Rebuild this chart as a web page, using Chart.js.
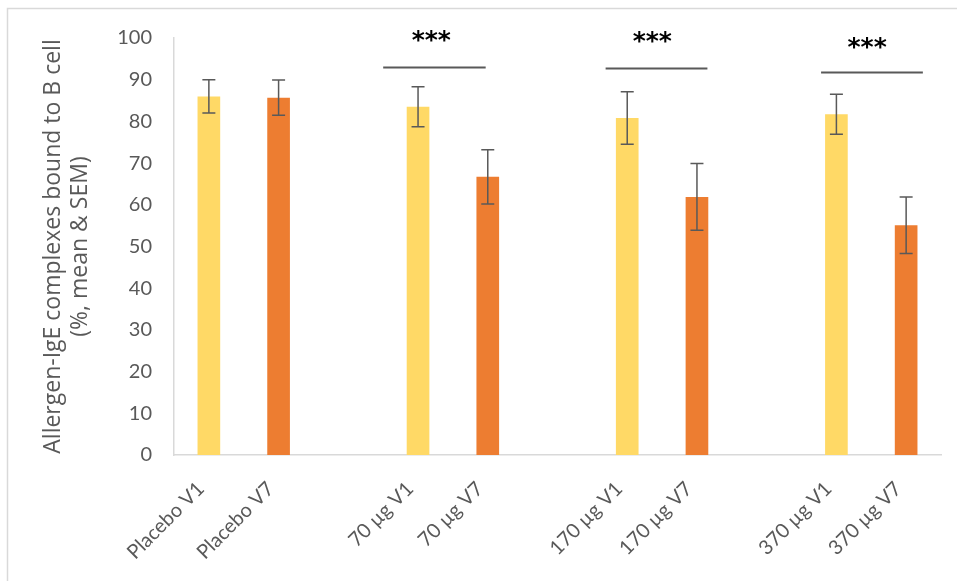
<!DOCTYPE html>
<html>
<head>
<meta charset="utf-8">
<script src="https://cdn.jsdelivr.net/npm/chart.js@4.4.1/dist/chart.umd.min.js"></script>
<style>
  html, body { margin: 0; padding: 0; background: #fff; }
  #wrap { width: 957px; height: 581px; position: relative; }
</style>
</head>
<body>
<div id="wrap"><canvas id="chart" width="957" height="581"></canvas></div>
<script>
// categories (blank ones make the gaps between dose groups)
const categories = ['Placebo V1', 'Placebo V7', '', '70 µg V1', '70 µg V7', '',
                    '170 µg V1', '170 µg V7', '', '370 µg V1', '370 µg V7'];
const meanValues = [86.0, 85.7, null, 83.5, 66.7, null, 80.8, 61.9, null, 81.7, 55.1];
const semValues  = [4.0, 4.2, null, 4.8, 6.5, null, 6.3, 8.0, null, 4.8, 6.8];
const visitOf    = ['V1', 'V7', '', 'V1', 'V7', '', 'V1', 'V7', '', 'V1', 'V7'];
const yTicks = [0, 10, 20, 30, 40, 50, 60, 70, 80, 90, 100];

// significance brackets (category index / y value)
const sigStart = [2.5, 5.69, 8.78];
const sigEnd   = [3.97, 7.15, 10.24];
const sigLineY = [93.0, 92.7, 91.8];
const sigTextX = [3.19, 6.36, 9.44];
const sigTextY = [100.3, 100.1, 98.7];
const sigText  = ['***', '***', '***'];

const colors = { V1: '#FFD966', V7: '#ED7D31', '': '#ffffff' };
const axisGrey = '#D9D9D9';
const textGrey = '#595959';

// error bars drawn on top of each bar
const errorBars = {
  id: 'errorBars',
  afterDatasetsDraw(chart) {
    const ctx = chart.ctx;
    const y = chart.scales.y;
    const meta = chart.getDatasetMeta(0);
    ctx.save();
    ctx.strokeStyle = '#595959';
    ctx.lineWidth = 1.5;
    meta.data.forEach((bar, i) => {
      if (meanValues[i] == null) return;
      const top = y.getPixelForValue(meanValues[i] + semValues[i]);
      const bot = y.getPixelForValue(meanValues[i] - semValues[i]);
      const x = bar.x;
      ctx.beginPath();
      ctx.moveTo(x, top); ctx.lineTo(x, bot);
      ctx.moveTo(x - 6.5, top); ctx.lineTo(x + 6.5, top);
      ctx.moveTo(x - 6.5, bot); ctx.lineTo(x + 6.5, bot);
      ctx.stroke();
    });
    ctx.restore();
  }
};

// significance lines and stars, plus the light frame
const annotations = {
  id: 'annotations',
  beforeDraw(chart) {
    const ctx = chart.ctx;
    ctx.save();
    ctx.fillStyle = '#fff';
    ctx.fillRect(0, 0, chart.width, chart.height);
    ctx.strokeStyle = axisGrey;
    ctx.lineWidth = 1.5;
    ctx.strokeRect(7.5, 8.5, 1000, 700);
    ctx.restore();
  },
  afterDatasetsDraw(chart) {
    const ctx = chart.ctx;
    const x = chart.scales.x, y = chart.scales.y;
    ctx.save();
    ctx.strokeStyle = '#595959';
    ctx.lineWidth = 2;
    ctx.fillStyle = '#000';
    ctx.font = 'bold 25px "DejaVu Sans"';
    ctx.textAlign = 'center';
    ctx.textBaseline = 'middle';
    for (let i = 0; i < sigStart.length; i++) {
      const ly = Math.round(y.getPixelForValue(sigLineY[i])) + 0.5;
      ctx.beginPath();
      ctx.moveTo(x.getPixelForValue(sigStart[i]), ly);
      ctx.lineTo(x.getPixelForValue(sigEnd[i]), ly);
      ctx.stroke();
      ctx.fillText(sigText[i], x.getPixelForValue(sigTextX[i]), y.getPixelForValue(sigTextY[i]) + 5);
    }
    ctx.restore();
  }
};

const ctx = document.getElementById('chart').getContext('2d');
const chart = new Chart(ctx, {
  type: 'bar',
  data: {
    labels: categories,
    datasets: [{
      data: meanValues,
      backgroundColor: visitOf.map(v => colors[v]),
      categoryPercentage: 1,
      barPercentage: 0.325
    }]
  },
  options: {
    responsive: false,
    animation: false,
    layout: { padding: { top: 38, right: 16, left: 0, bottom: 0 } },
    plugins: { legend: { display: false }, tooltip: { enabled: false } },
    scales: {
      x: {
        grid: { display: false, drawTicks: false },
        border: { color: axisGrey, width: 1.5 },
        ticks: {
          color: textGrey,
          font: { family: 'Lato', size: 20 },
          minRotation: 45, maxRotation: 45,
          autoSkip: false,
          labelOffset: -8,
          padding: 22
        },
        afterFit(scale) { scale.height = 126; }
      },
      y: {
        min: 0, max: 100,
        afterBuildTicks(scale) { scale.ticks = yTicks.map(v => ({ value: v })); },
        grid: { display: false, drawTicks: false },
        border: { color: axisGrey, width: 1.5 },
        ticks: {
          color: textGrey,
          font: { family: 'Lato', size: 20 },
          padding: 22
        },
        title: {
          display: true,
          text: ['Allergen-IgE complexes bound to B cell', '(%, mean & SEM)'],
          color: textGrey,
          font: { family: 'Open Sans', size: 23, lineHeight: 1.17 },
          padding: { top: 40, bottom: 0 }
        },
        afterFit(scale) { scale.width = 174; }
      }
    }
  },
  plugins: [annotations, errorBars]
});
</script>
</body>
</html>
